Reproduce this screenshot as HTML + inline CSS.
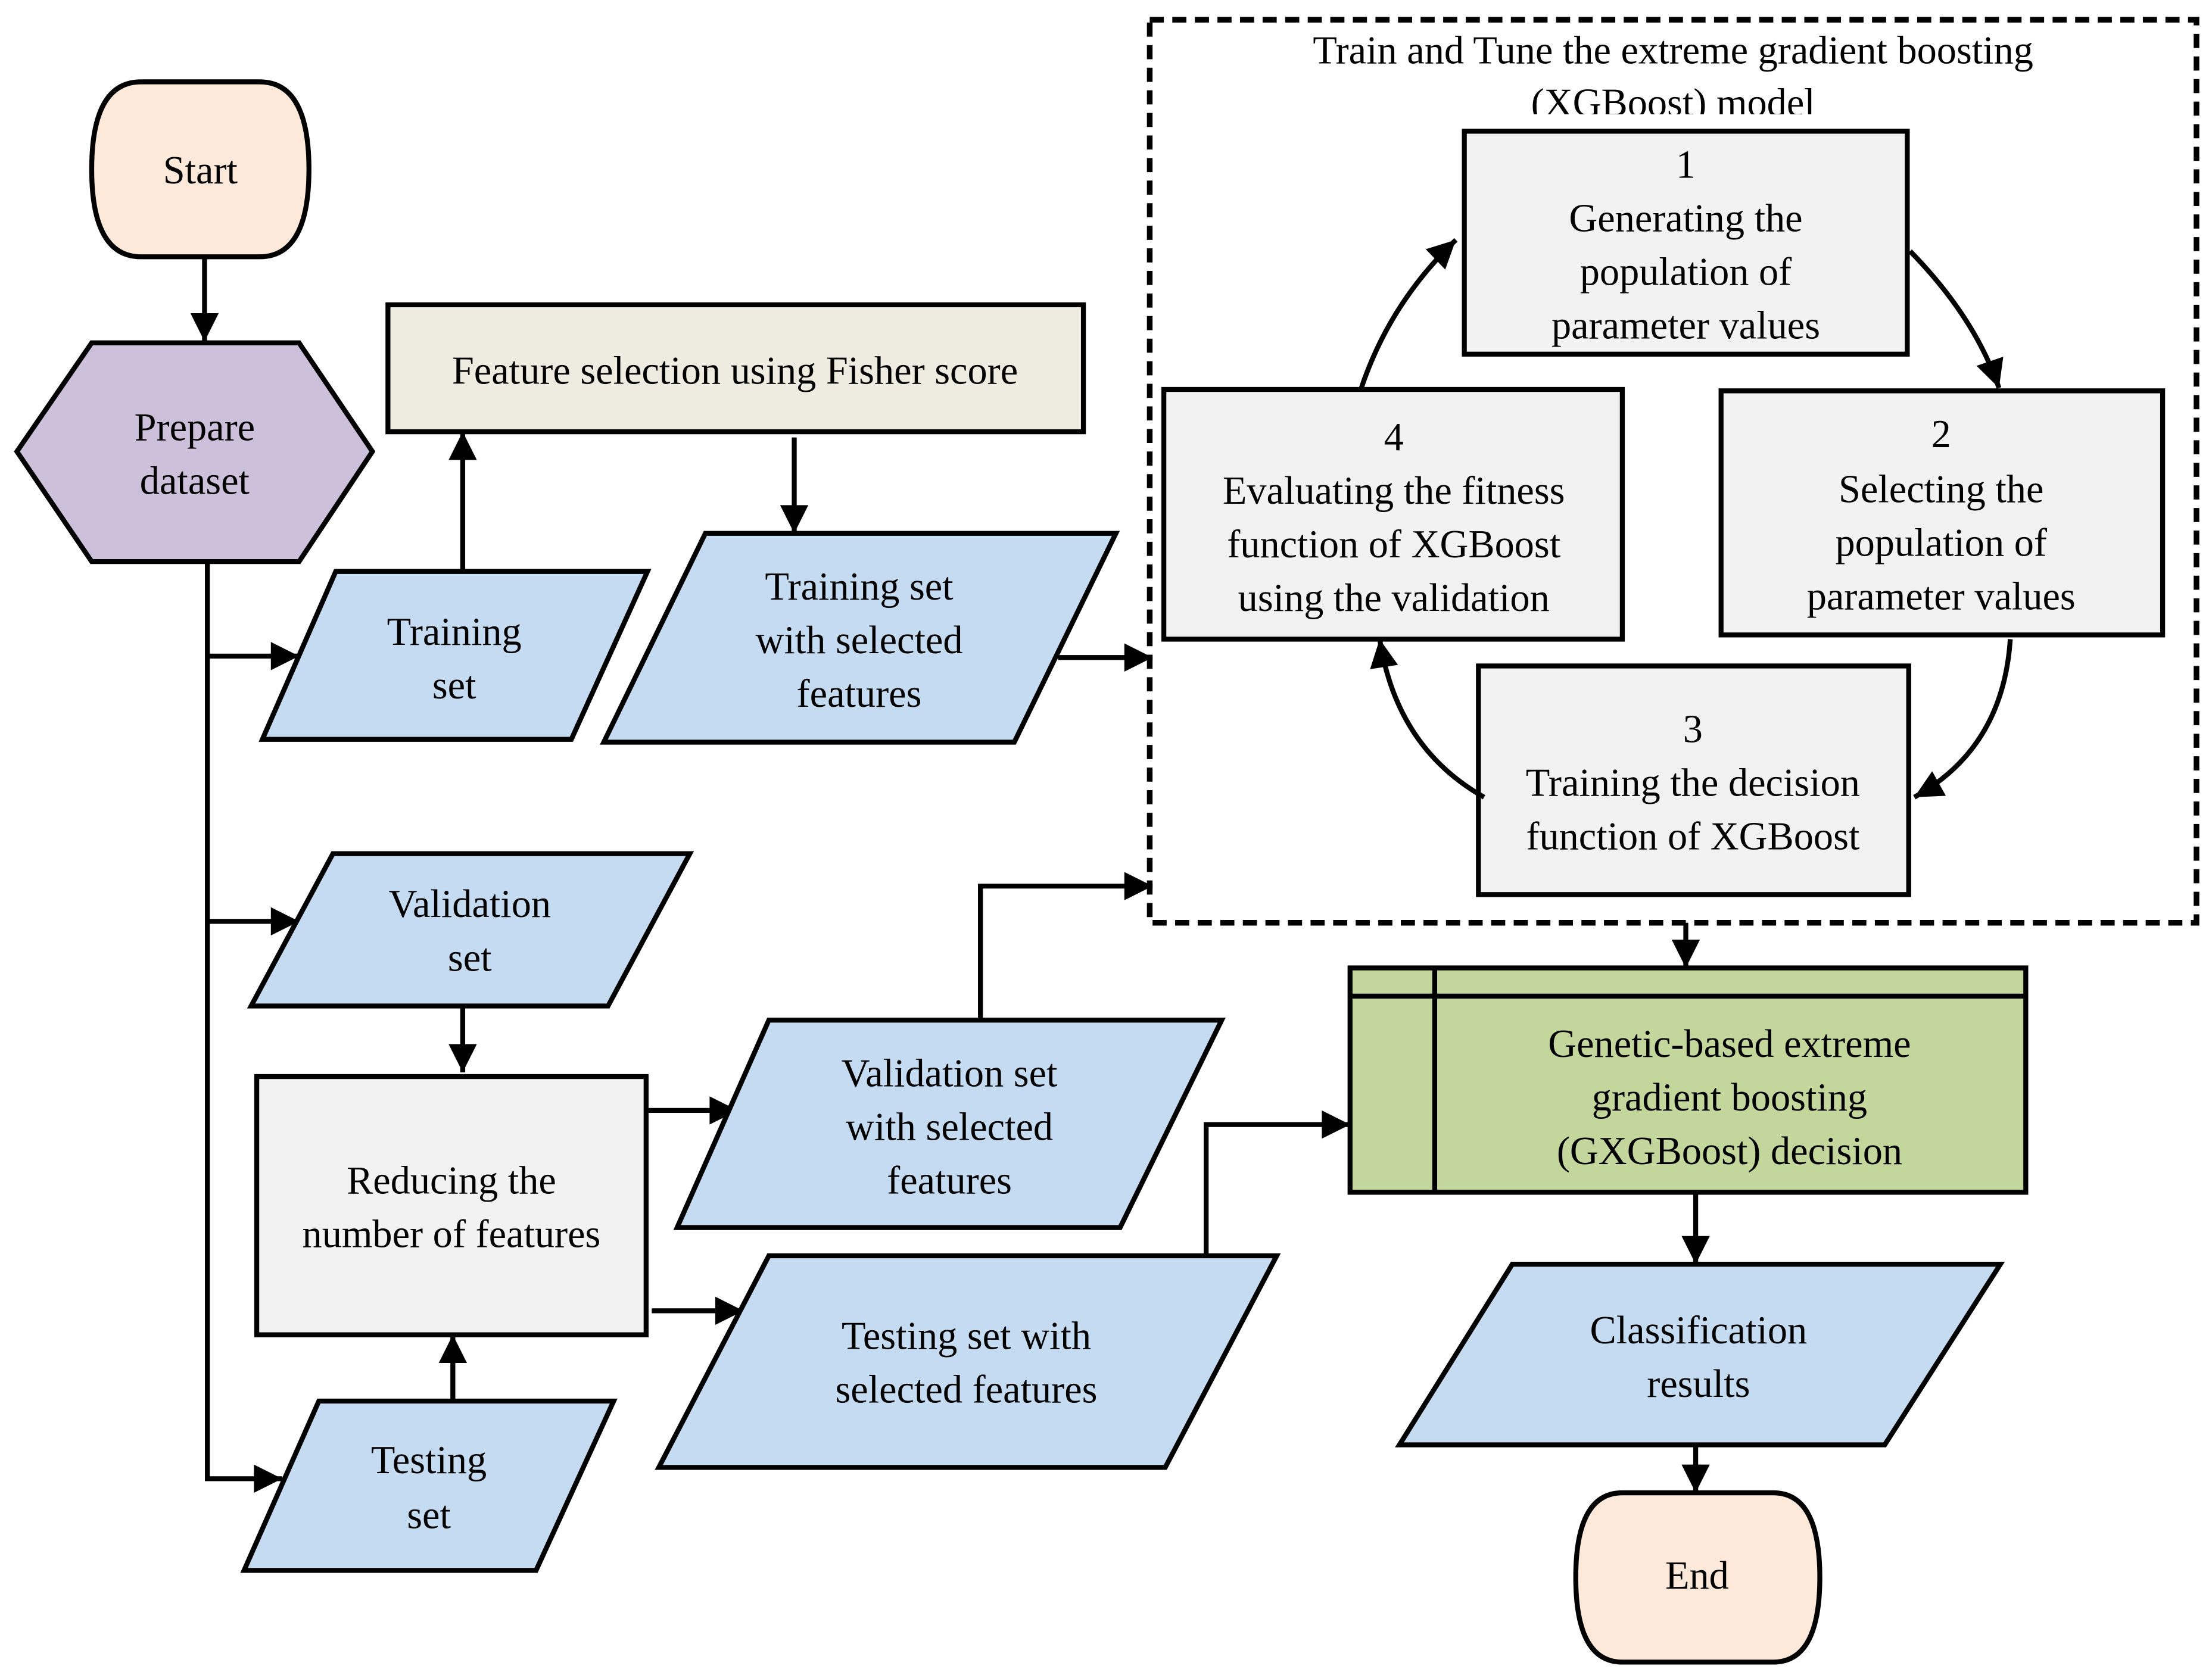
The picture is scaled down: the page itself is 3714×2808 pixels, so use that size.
<!DOCTYPE html>
<html><head><meta charset="utf-8"><style>
html,body{margin:0;padding:0;background:#fff}
svg{display:block}
text{font-family:"Liberation Serif",serif;font-size:28px;fill:#000;text-anchor:middle}
</style></head><body>
<svg width="3714" height="2808" viewBox="0 0 1568 1185" preserveAspectRatio="none" xmlns="http://www.w3.org/2000/svg">
<defs>
<marker id="ah" viewBox="0 0 10 10" refX="10" refY="5" markerWidth="22" markerHeight="20" orient="auto-start-reverse" markerUnits="userSpaceOnUse">
<path d="M0,0 L10,5 L0,10 z" fill="#000"/>
</marker>
<clipPath id="tc"><rect x="815" y="14" width="742" height="67"/></clipPath>
</defs>
<g stroke="#000" stroke-width="3.5" fill="none">
<path d="M100,58 H184 Q219,58 219,120 Q219,182 184,182 H100 Q65,182 65,120 Q65,58 100,58 Z" fill="#fde9d9"/>
<line x1="145" y1="182" x2="145" y2="242" marker-end="url(#ah)"/>
<polygon points="12,320 65,243 212,243 264,320 212,398 65,398" fill="#ccc0da"/>
<polyline points="147,398 147,1048 200,1048" marker-end="url(#ah)"/>
<line x1="147" y1="465" x2="212" y2="465" marker-end="url(#ah)"/>
<line x1="147" y1="653" x2="212" y2="653" marker-end="url(#ah)"/>
<polygon points="186,524 238,405 459,405 405,524" fill="#c5dbf1"/>
<line x1="328" y1="405" x2="328" y2="306" marker-end="url(#ah)"/>
<rect x="275" y="216" width="493" height="90" fill="#eeece1"/>
<line x1="563" y1="310" x2="563" y2="378" marker-end="url(#ah)"/>
<polygon points="428,526 500,378 791,378 719,526" fill="#c5dbf1"/>
<line x1="750" y1="466" x2="817" y2="466" marker-end="url(#ah)"/>
<rect x="815" y="14" width="742" height="640" stroke-dasharray="10,6" stroke-width="4"/>
<rect x="1038" y="93" width="314" height="158" fill="#f2f2f2"/>
<rect x="1220" y="277" width="313" height="173" fill="#f2f2f2"/>
<rect x="1048" y="472" width="305" height="162" fill="#f2f2f2"/>
<rect x="825" y="276" width="325" height="177" fill="#f2f2f2"/>
<path d="M965,275 Q985,215 1032,170" marker-end="url(#ah)"/>
<path d="M1354,178 Q1400,225 1417,275" marker-end="url(#ah)"/>
<path d="M1425,453 Q1420,530 1357,565" marker-end="url(#ah)"/>
<path d="M1052,565 Q990,530 978,453" marker-end="url(#ah)"/>
<line x1="1195" y1="654" x2="1195" y2="686" marker-end="url(#ah)"/>
<rect x="957" y="686" width="479" height="159" fill="#c3d69b"/>
<line x1="1017" y1="686" x2="1017" y2="845"/>
<line x1="957" y1="706" x2="1436" y2="706"/>
<line x1="1202" y1="845" x2="1202" y2="896" marker-end="url(#ah)"/>
<polygon points="992,1024 1072,896 1418,896 1336,1024" fill="#c5dbf1"/>
<line x1="1202" y1="1024" x2="1202" y2="1058" marker-end="url(#ah)"/>
<path d="M1150,1058 H1257 Q1290,1058 1290,1118 Q1290,1178 1257,1178 H1150 Q1117,1178 1117,1118 Q1117,1058 1150,1058 Z" fill="#fde9d9"/>
<polygon points="178,713 236,605 489,605 431,713" fill="#c5dbf1"/>
<line x1="328" y1="713" x2="328" y2="760" marker-end="url(#ah)"/>
<rect x="182" y="763" width="276" height="183" fill="#f2f2f2"/>
<polygon points="173,1113 226,993 435,993 380,1113" fill="#c5dbf1"/>
<line x1="321" y1="993" x2="321" y2="946" marker-end="url(#ah)"/>
<line x1="458" y1="787" x2="523" y2="787" marker-end="url(#ah)"/>
<polygon points="480,870 545,723 866,723 794,870" fill="#c5dbf1"/>
<polyline points="695,723 695,628 817,628" marker-end="url(#ah)"/>
<line x1="462" y1="929" x2="527" y2="929" marker-end="url(#ah)"/>
<polygon points="467,1040 545,890 905,890 826,1040" fill="#c5dbf1"/>
<polyline points="855,890 855,797 957,797" marker-end="url(#ah)"/>
</g>
<g>
<text x="142" y="130">Start</text>
<text x="138" y="312">Prepare</text><text x="138" y="350">dataset</text>
<text x="322" y="457">Training</text><text x="322" y="495">set</text>
<text x="521" y="272">Feature selection using Fisher score</text>
<text x="609" y="425">Training set</text><text x="609" y="463">with selected</text><text x="609" y="501">features</text>
<g clip-path="url(#tc)"><text x="1186" y="45">Train and Tune the extreme gradient boosting</text><text x="1186" y="82">(XGBoost) model</text></g>
<text x="1195" y="126">1</text><text x="1195" y="164">Generating the</text><text x="1195" y="202">population of</text><text x="1195" y="240">parameter values</text>
<text x="1376" y="317">2</text><text x="1376" y="356">Selecting the</text><text x="1376" y="394">population of</text><text x="1376" y="432">parameter values</text>
<text x="1200" y="526">3</text><text x="1200" y="564">Training the decision</text><text x="1200" y="602">function of XGBoost</text>
<text x="988" y="319">4</text><text x="988" y="357">Evaluating the fitness</text><text x="988" y="395">function of XGBoost</text><text x="988" y="433">using the validation</text>
<text x="1226" y="749">Genetic-based extreme</text><text x="1226" y="787">gradient boosting</text><text x="1226" y="825">(GXGBoost) decision</text>
<text x="1204" y="952">Classification</text><text x="1204" y="990">results</text>
<text x="1203" y="1126">End</text>
<text x="333" y="650">Validation</text><text x="333" y="688">set</text>
<text x="320" y="846">Reducing the</text><text x="320" y="884">number of features</text>
<text x="304" y="1044">Testing</text><text x="304" y="1083">set</text>
<text x="673" y="770">Validation set</text><text x="673" y="808">with selected</text><text x="673" y="846">features</text>
<text x="685" y="956">Testing set with</text><text x="685" y="994">selected features</text>
</g>
</svg>
</body></html>
